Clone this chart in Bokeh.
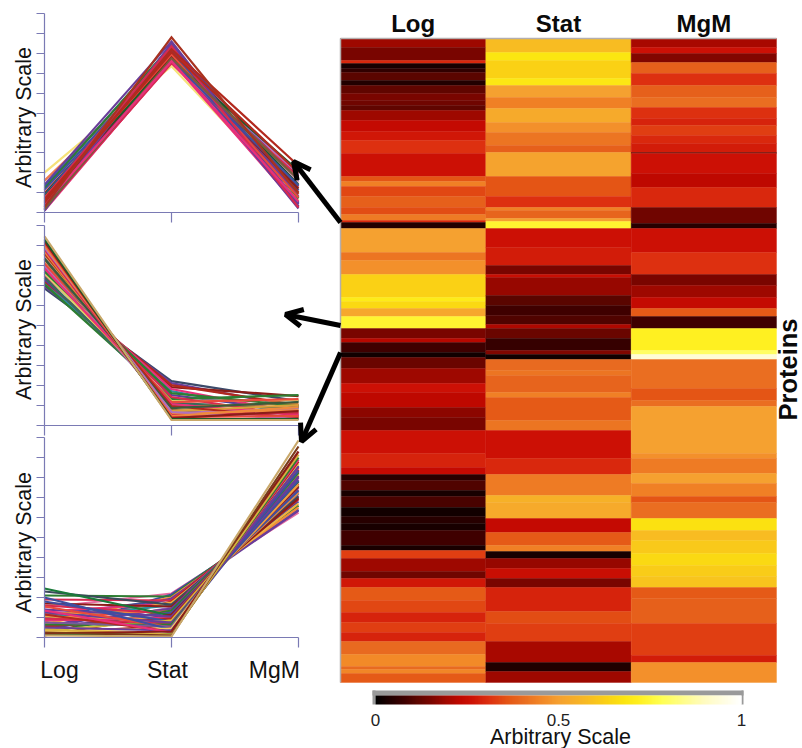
import numpy as np
from bokeh.plotting import figure, ColumnDataSource
from bokeh.models import (Range1d, LinearAxis, FixedTicker, LinearColorMapper, ColorBar, Arrow, OpenHead)
from bokeh.core.properties import value
from bokeh.embed import file_html
from bokeh.resources import INLINE

conditions = ["Log", "Stat", "MgM"]
axis_title = "Arbitrary Scale"

# heat-map bands: end rank of every band and its value, per condition
log_ends = [9,22,25,30,34,42,47,55,62,67,72,82,93,102,115,138,143,148,158,169,176,182,184,190,214,222,236,259,263,270,278,290,300,304,314,319,330,345,354,369,379,392,415,429,436,442,452,458,469,478,485,492,507,512,520,533,540,549,562,574,584,594,603,616,628,631,635,644]
log_vals = [.19,.15,.30,.03,.06,.11,.04,.12,.15,.14,.12,.19,.24,.27,.31,.26,.36,.44,.34,.38,.35,.43,.30,.04,.50,.42,.47,.63,.70,.65,.52,.74,.15,.22,.08,.02,.13,.19,.26,.23,.17,.15,.26,.29,.24,.05,.10,.03,.09,.02,.05,.03,.08,.03,.33,.19,.14,.27,.37,.34,.29,.33,.29,.40,.46,.40,.45,.37]
stat_ends = [14,22,40,47,59,70,84,94,107,114,138,158,169,172,180,183,190,209,227,236,239,257,267,277,286,290,300,312,316,321,332,337,354,359,382,392,420,436,457,464,480,494,507,513,520,530,540,549,573,585,603,624,633,644]
stat_vals = [.58,.68,.63,.69,.50,.44,.53,.47,.42,.38,.51,.36,.31,.44,.39,.50,.74,.26,.28,.15,.25,.18,.11,.08,.10,.21,.13,.07,.16,.02,.40,.42,.39,.44,.37,.42,.26,.30,.43,.55,.53,.24,.37,.44,.03,.18,.25,.15,.29,.35,.33,.20,.04,.19]
mgm_ends = [9,15,24,35,47,59,69,80,87,97,105,114,115,135,149,169,185,190,214,236,247,259,270,278,290,312,316,321,350,362,368,415,420,435,445,458,464,480,492,502,515,527,538,549,560,585,617,624,644]
mgm_vals = [.20,.26,.16,.38,.31,.38,.41,.31,.29,.33,.30,.28,.12,.26,.23,.30,.14,.05,.26,.31,.15,.19,.24,.37,.08,.72,.80,.93,.41,.36,.41,.50,.47,.43,.50,.44,.36,.41,.67,.58,.61,.65,.62,.60,.37,.38,.33,.28,.47]
colorbar_ticks = [0, 0.5, 1]
colour_stops = [0,.03,.08,.11,.15,.19,.23,.26,.31,.36,.40,.44,.50,.57,.63,.68,.72,.78,.90,1]
colour_rgb = ["#000000","#1a0000","#400000","#5a0500","#7a0500","#a00800","#c00800","#cc1005","#dd3010","#e45515","#e86a20","#f08025","#f5a030","#f7b825","#fad015","#fbe510","#fff020","#ffff50","#fffbc0","#ffffff"]

# panel 1 (peak at Stat)
p1_log = [2.0,1.6,1.4,.25,1.3,.1,1.2,.6,1.1,.15,1.0,.45,.95,.3,.9,.2,.85,.55,.8,.1,.75,.35,.7,.18,.65,.4,.5,.28]
p1_stat = [7.35,7.7,8.6,7.5,8.3,7.6,8.4,7.9,8.1,8.0,7.6,8.25,7.85,8.45,8.0,7.55,8.15,7.8,7.7,8.5,7.95,7.65,8.35,7.75,8.05,7.6,8.2,8.8]
p1_mgm = [.6,.9,.4,1.3,1.6,.3,.7,1.9,1.1,.2,1.5,.5,1.0,.8,1.4,1.8,.3,1.2,2.1,.45,.75,1.35,.25,1.65,2.0,.55,2.35,.95]
p1_colors = ["#f6e27a","#ee7a50","#6a3d9a","#d62a50","#3f4fa0","#e8307a","#2e7d32","#b070c0","#3f4fa0","#6a3d9a","#e8a0c0","#3f4fa0","#b2291e","#6a3d9a","#1a5c2a","#d62a50","#3f4fa0","#8c1d18","#1a5c2a","#6a3d9a","#e84a3c","#3f4fa0","#d62a50","#7a5a3a","#b2291e","#e8307a","#b2291e","#a83220"]

# panel 2 (high at Log)
p2_log = [6.85,6.95,7.05,7.1,7.2,7.3,7.05,7.5,7.6,7.4,7.8,7.9,8.0,7.7,8.2,8.1,8.3,8.4,7.85,8.55,8.6,8.7,8.35,8.8,8.9,9.0,9.1,9.2,9.3,9.45]
p2_stat = [2.2,2.1,1.9,1.7,2.0,1.5,1.3,1.8,1.2,1.1,1.4,.9,1.0,1.6,.8,1.15,.75,.6,1.05,.7,.95,.55,.85,.5,.65,.45,.4,.35,.3,.25]
p2_mgm = [1.2,.9,1.45,.5,1.0,.7,1.5,.6,1.25,.85,.45,1.1,.55,.95,.65,1.3,.4,.8,.5,1.0,.35,.75,1.15,.6,.3,.9,.45,.7,.3,.25]
p2_colors = ["#3b4a6a","#6a3d9a","#8c1d18","#2a8fa0","#b2291e","#5a3d9a","#2e7d32","#e8307a","#d9d06a","#3b6a5a","#d62a50","#f08a3c","#b070c0","#2e7d32","#f6c07a","#e84a3c","#7a5a3a","#b070c0","#e8307a","#d9a03a","#b2291e","#f08a3c","#3b5a3a","#d62a50","#b070c0","#f08a3c","#e84a3c","#8c1d18","#1a5c2a","#c9a86a"]

# panel 3 (high at MgM)
p3_log = [1.5,.3,2.1,.8,1.1,.5,1.9,.15,1.3,.7,1.0,2.3,.4,1.7,.9,.6,1.2,.25,1.6,.45,2.45,.1,.85,1.4,1.05,.55,1.8,.35,.95,1.25,.2,.65,1.55,.75,2.0,.3,1.15,.5,1.35,.15,.4,.2,.25,.1]
p3_stat = [2.2,2.15,2.05,2.0,1.9,1.95,1.85,1.8,1.7,1.75,1.6,1.65,1.5,1.55,1.4,1.45,1.3,1.35,1.2,1.25,1.1,1.15,1.0,1.05,.9,.95,.8,.85,.7,.75,.6,.65,.5,.55,.4,.45,.3,.35,.25,.2,.15,.3,.1,.05]
p3_mgm = [6.25,6.4,6.6,6.5,6.8,6.35,6.9,7.0,7.1,6.7,7.2,7.05,7.3,6.95,7.4,7.5,7.25,7.6,7.7,7.35,7.8,7.55,7.9,8.0,7.65,8.1,7.85,8.2,8.3,8.05,8.4,8.25,8.5,8.6,8.35,8.7,8.8,8.55,8.9,9.0,9.15,9.3,9.55,9.85]
p3_colors = ["#e86aa0","#3f4fa0","#2e7d32","#f08a3c","#3f4fa0","#6a3d9a","#d62a50","#b2291e","#e8307a","#f0b040","#2a8fa0","#3b4a5a","#b070c0","#8c1d18","#e84a3c","#6a3d9a","#f08a3c","#2e7d32","#d62a50","#3f4fa0","#1a7a3a","#8c1d18","#e8307a","#6a3d9a","#f0a040","#b2291e","#3f4fa0","#d9c23a","#d62a50","#6a3d9a","#b2291e","#2e7d32","#e84a3c","#7a5a9a","#3f4fa0","#f6d060","#b2291e","#6a3d9a","#e8307a","#2e7d32","#d9b040","#8c1d18","#7a3a1a","#c9a86a"]

# ---------------------------------------------------------------------------
W, H = 802, 748
AXIS = "#7a7ab4"
GRAY = "#b4aeae"
FONT = "Liberation Sans"

def xr(v0, a, v1, b):
    k = (v1 - v0) / (b - a)
    return Range1d(start=v0 - a * k, end=v0 + (W - a) * k)

def yr(v0, a, v1, b):
    k = (v1 - v0) / (b - a)
    return Range1d(start=v0 + (H - a) * k, end=v0 - a * k)

p = figure(width=W, height=H, output_backend="svg", toolbar_location=None,
           x_range=Range1d(0, W), y_range=Range1d(H, 0),
           x_axis_type=None, y_axis_type=None, min_border=0, outline_line_color=None)
p.grid.visible = False
p.background_fill_color = "white"

p.extra_x_ranges = {"lx": xr(0, 44, 2, 298), "hx": xr(0, 340, 3, 776)}
p.extra_y_ranges = {"p1": yr(0, 212, 10, 13), "p2": yr(0, 424.5, 10, 225),
                    "p3": yr(0, 637, 10, 437), "hy": yr(0, 38, 644, 682)}

# mapper
stops = np.linspace(0, 1, 256)
rgb = np.array([[int(c[i:i + 2], 16) for i in (1, 3, 5)] for c in colour_rgb], dtype=float)
palette = ["#%02x%02x%02x" % tuple(int(round(np.interp(s, colour_stops, rgb[:, j]))) for j in range(3)) for s in stops]
mapper = LinearColorMapper(palette=palette, low=0, high=1)

# heat map
for col, (ends, vals) in enumerate([(log_ends, log_vals), (stat_ends, stat_vals), (mgm_ends, mgm_vals)]):
    starts = [0] + ends[:-1]
    src = ColumnDataSource(dict(left=[col] * len(vals), right=[col + 1] * len(vals), top=starts, bottom=ends, v=vals))
    p.quad(left="left", right="right", top="top", bottom="bottom", source=src,
           fill_color={"field": "v", "transform": mapper}, line_color={"field": "v", "transform": mapper},
           line_width=0.4, x_range_name="hx", y_range_name="hy")

htop = LinearAxis(x_range_name="hx", y_range_name="hy", fixed_location=0, bounds=(0, 3),
                  ticker=FixedTicker(ticks=[]), major_tick_line_color=None, minor_tick_line_color=None,
                  axis_line_color=GRAY, axis_line_width=1.5, major_label_text_font_size="0px")
p.add_layout(htop, "above")
titles = LinearAxis(x_range_name="hx", y_range_name="hy", fixed_location=6,
                    ticker=FixedTicker(ticks=[.5, 1.5, 2.5]),
                    major_label_overrides={.5: conditions[0], 1.5: conditions[1], 2.5: conditions[2]},
                    major_tick_line_color=None, minor_tick_line_color=None, axis_line_color=None,
                    major_label_text_font=FONT, major_label_text_font_style="bold",
                    major_label_text_font_size="24px", major_label_text_color="#0a0a0a", major_label_standoff=2)
p.add_layout(titles, "above")
hleft = LinearAxis(x_range_name="hx", y_range_name="hy", fixed_location=0, bounds=(0, 644),
                   ticker=FixedTicker(ticks=[]), major_tick_line_color=None, minor_tick_line_color=None,
                   major_label_text_font_size="0px", axis_line_color=GRAY, axis_line_width=1.5)
p.add_layout(hleft, "left")

# line panels
for name, lg, st, mg, cols in [("p1", p1_log, p1_stat, p1_mgm, p1_colors), ("p2", p2_log, p2_stat, p2_mgm, p2_colors),
                               ("p3", p3_log, p3_stat, p3_mgm, p3_colors)]:
    ys = [[a, b, c] for a, b, c in zip(lg, st, mg)]
    xs = [[0, 1, 2] for _ in ys]
    src = ColumnDataSource(dict(xs=xs, ys=ys, c=cols))
    p.multi_line(xs="xs", ys="ys", line_color="c", line_width=2.2, source=src, line_join="miter",
                 x_range_name="lx", y_range_name=name)
    yax = LinearAxis(x_range_name="lx", y_range_name=name, fixed_location=0, bounds=(0, 10),
                     ticker=FixedTicker(ticks=list(range(11))), major_tick_in=0, major_tick_out=8,
                     major_label_overrides={i: "" for i in range(11)},
                     minor_tick_line_color=None, major_tick_line_color=AXIS, axis_line_color=AXIS,
                     major_tick_line_width=1.2, axis_line_width=1.2, major_label_text_font_size="0px")
    p.add_layout(yax, "left")
    xax = LinearAxis(x_range_name="lx", y_range_name=name, fixed_location=0, bounds=(0, 2),
                     ticker=FixedTicker(ticks=[0, 1, 2]), major_tick_in=0, major_tick_out=10,
                     major_label_overrides={i: "" for i in range(3)},
                     minor_tick_line_color=None, major_tick_line_color=AXIS, axis_line_color=AXIS,
                     major_tick_line_width=1.2, axis_line_width=1.2, major_label_text_font_size="0px")
    p.add_layout(xax, "below")

# condition labels under the last panel
lab = LinearAxis(x_range_name="lx", y_range_name="p3", fixed_location=0,
                 ticker=FixedTicker(ticks=[.118, .968, 1.81]),
                 major_label_overrides={.118: conditions[0], .968: conditions[1], 1.81: conditions[2]},
                 major_tick_line_color=None, minor_tick_line_color=None, axis_line_color=None,
                 major_label_text_font=FONT, major_label_text_font_size="23px",
                 major_label_text_color="#111111", major_label_standoff=13)
p.add_layout(lab, "below")

# rotated and free texts (image pixel coordinates)
for yy in (117, 329, 542):
    p.text(x=[23], y=[yy], text=[axis_title], angle=np.pi / 2, text_align="center", text_baseline="middle",
           text_font=value(FONT), text_font_size="21.5px", text_color="#111111")
p.text(x=[787], y=[369], text=["Proteins"], angle=np.pi / 2, text_align="center", text_baseline="middle",
       text_font=value(FONT), text_font_style="bold", text_font_size="25.5px", text_color="#0a0a0a")
p.text(x=[560], y=[736], text=[axis_title], text_align="center", text_baseline="middle",
       text_font=value(FONT), text_font_size="21.5px", text_color="#111111")

# arrows
for xs_, ys_, xe, ye in [(340, 222, 293, 161), (340, 325, 285, 314), (340, 352, 301, 441)]:
    p.add_layout(Arrow(end=OpenHead(size=17, line_width=5, line_color="black"),
                       x_start=xs_, y_start=ys_, x_end=xe, y_end=ye, line_width=5, line_color="black"))

# colour bar
cb = ColorBar(color_mapper=mapper, ticker=FixedTicker(ticks=colorbar_ticks), orientation="horizontal",
              location=(375, 20), width=366, height=9, padding=0, margin=0,
              major_tick_line_color=None, minor_tick_line_color=None, bar_line_color=None,
              background_fill_alpha=0, border_line_color=None, major_label_text_font=FONT,
              major_label_text_font_size="17px", major_label_text_color="#222222", label_standoff=9)
p.add_layout(cb)
p.quad(left=[372, 372, 741], right=[743, 375, 743], top=[690, 690, 690], bottom=[695, 704, 704],
       fill_color="#9a9a9a", line_color=None)

open("out.html", "w").write(file_html(p, INLINE))
